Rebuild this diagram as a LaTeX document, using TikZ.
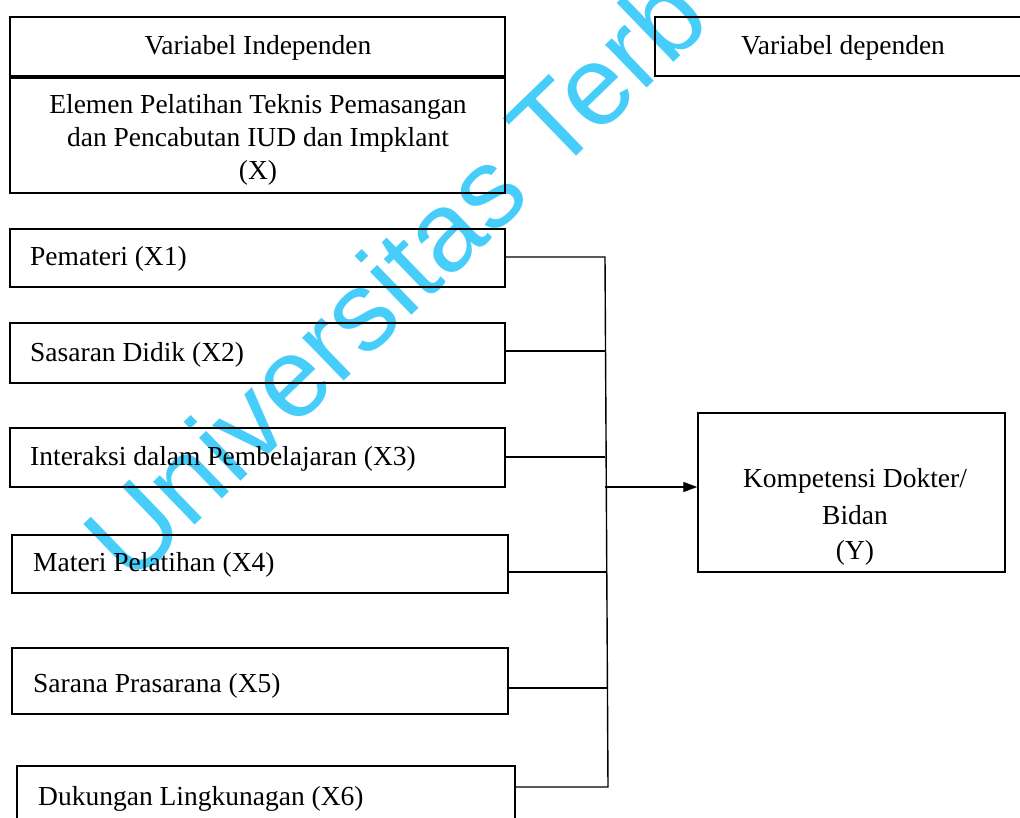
\documentclass[tikz,border=0pt]{standalone}
\usepackage{fontspec}
\setmainfont{Liberation Serif}
\newfontfamily\wmfont{Liberation Sans}
\usetikzlibrary{arrows.meta}
\definecolor{wmcyan}{RGB}{70,205,250}
\begin{document}
\begin{tikzpicture}[x=1pt,y=-1pt,
  box/.style={draw,line width=1.5pt,inner sep=0pt},
  lbl/.style={font=\fontsize{27.5}{33}\selectfont,inner sep=0pt},
  conn/.style={line width=1.4pt},
]
\clip (0,0) rectangle (1020,818);
\fill[white] (0,0) rectangle (1020,818);
% watermark
\node[text=wmcyan,font=\wmfont\fontsize{113}{120}\selectfont,rotate=44,anchor=base west,inner sep=0pt] (wm) at (131,587) {Universitas Terb};
% boxes
\draw[box] (10,17) rectangle (505,76);
\node[lbl] (vi) at (258,48) {Variabel Independen};
\draw[box] (10,78) rectangle (505,193);
\node[lbl,align=center] (el) at (258,140) {Elemen Pelatihan Teknis Pemasangan\\dan Pencabutan IUD dan Impklant\\(X)};
\draw[box] (655,17) rectangle (1040,76);
\node[lbl] (vd) at (843,48) {Variabel dependen};
\node[box,minimum width=495pt,minimum height=58pt] (x1) at (257.5,258) {};
\node[lbl,anchor=west] at (30,259) {Pemateri (X1)};
\node[box,minimum width=495pt,minimum height=60pt] (x2) at (257.5,353) {};
\node[lbl,anchor=west] at (30,355) {Sasaran Didik (X2)};
\node[box,minimum width=495pt,minimum height=59pt] (x3) at (257.5,457.5) {};
\node[lbl,anchor=west] at (30,459) {Interaksi dalam Pembelajaran (X3)};
\node[box,minimum width=496pt,minimum height=58pt] (x4) at (260,564) {};
\node[lbl,anchor=west] at (33,565) {Materi Pelatihan (X4)};
\node[box,minimum width=496pt,minimum height=66pt] (x5) at (260,681) {};
\node[lbl,anchor=west] at (33,686) {Sarana Prasarana (X5)};
\node[box,minimum width=498pt,minimum height=64pt] (x6) at (266,798) {};
\node[lbl,anchor=west] at (38,799) {Dukungan Lingkunagan (X6)};
\node[box,minimum width=307pt,minimum height=159pt] (y) at (851.5,492.5) {};
\node[lbl,align=center] at (855,517) {Kompetensi Dokter/\\[4pt]Bidan\\[2pt](Y)};
% bus
\coordinate (b1) at (605,257);
\coordinate (b2) at (605,351);
\coordinate (b3) at (605,457);
\coordinate (b4) at (606,572);
\coordinate (b5) at (607,688);
\coordinate (b6) at (608,787);
\coordinate (ba) at (605,487);
\draw[conn] (x1.east |- b1) -- (b1) -- (b6) -- (x6.east |- b6);
\draw[conn] (x2.east |- b2) -- (b2);
\draw[conn] (x3.east |- b3) -- (b3);
\draw[conn] (x4.east |- b4) -- (b4);
\draw[conn] (x5.east |- b5) -- (b5);
\draw[conn,-{Triangle[length=14pt,width=10pt]}] (ba) -- (ba -| y.west);
\end{tikzpicture}
\end{document}
